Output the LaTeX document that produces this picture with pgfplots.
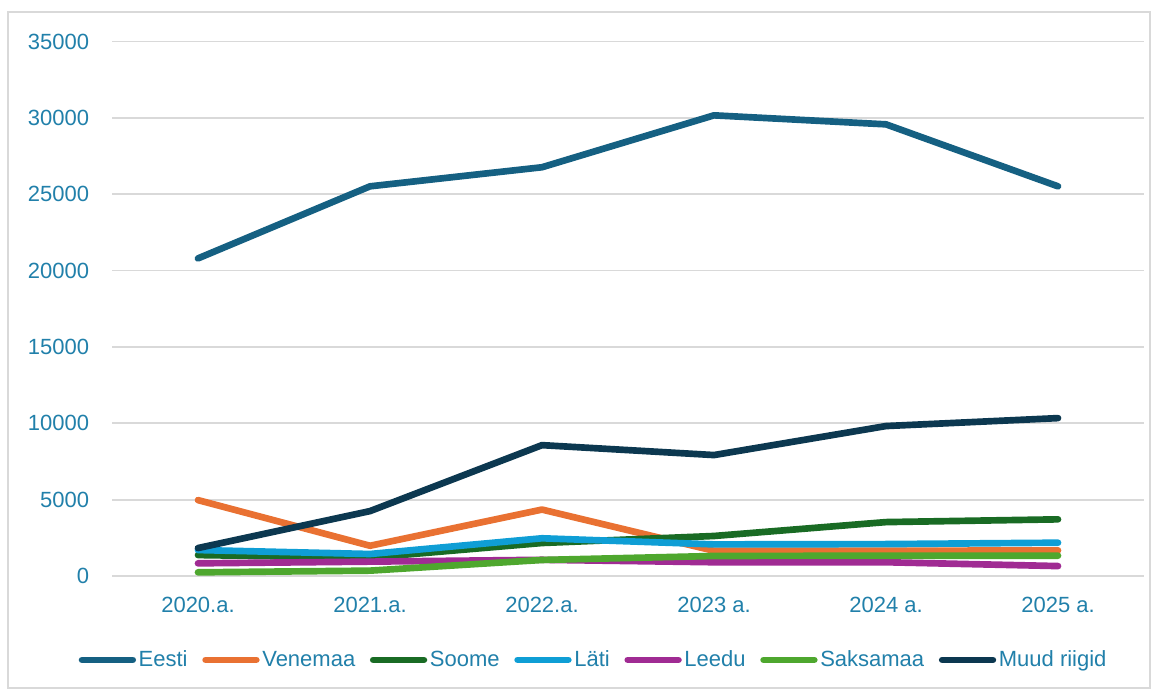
\documentclass[border=0pt]{standalone}
\usepackage{fontspec}
\setmainfont{Liberation Sans}
\usepackage{pgfplots}
\pgfplotsset{compat=1.18}
\definecolor{txt}{HTML}{2180AA}
\definecolor{cEesti}{HTML}{156082}
\definecolor{cVene}{HTML}{E97132}
\definecolor{cSoome}{HTML}{196B24}
\definecolor{cLati}{HTML}{0F9ED5}
\definecolor{cLeedu}{HTML}{A02B93}
\definecolor{cSaks}{HTML}{4EA72E}
\definecolor{cMuud}{HTML}{0C3850}
\definecolor{gridc}{HTML}{D9D9D9}
\begin{document}
\begin{tikzpicture}[x=0.75pt,y=0.75pt]
\path[use as bounding box] (0,0) rectangle (1153,691);
\draw[gridc, line width=1.2pt] (8,3) rectangle (1150,679);
\begin{axis}[
  at={(84pt,86.25pt)}, anchor=south west,
  scale only axis, width=774pt, height=400.8pt,
  xmin=-0.5, xmax=5.5, ymin=0, ymax=35000,
  xtick={0,1,2,3,4,5},
  xticklabels={2020.a.,2021.a.,2022.a.,2023 a.,2024 a.,2025 a.},
  ytick={0,5000,10000,15000,20000,25000,30000,35000},
  scaled y ticks=false,
  /pgf/number format/assume math mode=true,
  /pgf/number format/1000 sep={},
  ymajorgrids=true, xmajorgrids=false,
  major grid style={draw=gridc, line width=1.3pt},
  axis line style={draw=none},
  major tick length=0pt,
  tick label style={font=\fontsize{16.5}{20}\selectfont, text=txt, inner sep=0pt},
  yticklabel style={anchor=east, xshift=-17pt},
  xticklabel style={anchor=north, yshift=-16pt},
  every axis plot/.append style={line width=5pt, line cap=round, line join=round},
  legend columns=7,
  legend style={draw=none, at={(0.467,-0.157)}, anchor=center,
    font=\fontsize{16.5}{20}\selectfont, text=txt, inner sep=0pt,
    /tikz/every even column/.append style={column sep=9pt},
    legend cell align=left},
  legend image code/.code={\draw[#1, line width=5pt, line cap=round] (0pt,0pt) -- (38pt,0pt);},
]
\addplot[cEesti] coordinates {(0,20800)(1,25520)(2,26770)(3,30170)(4,29580)(5,25520)};
\addlegendentry{Eesti}
\addplot[cVene] coordinates {(0,4970)(1,1980)(2,4350)(3,1650)(4,1650)(5,1680)};
\addlegendentry{Venemaa}
\addplot[cSoome] coordinates {(0,1370)(1,1200)(2,2160)(3,2620)(4,3530)(5,3710)};
\addlegendentry{Soome}
\addplot[cLati] coordinates {(0,1700)(1,1440)(2,2470)(3,2070)(4,2090)(5,2180)};
\addlegendentry{Läti}
\addplot[cLeedu] coordinates {(0,830)(1,940)(2,1060)(3,900)(4,900)(5,650)};
\addlegendentry{Leedu}
\addplot[cSaks] coordinates {(0,240)(1,350)(2,1050)(3,1310)(4,1330)(5,1330)};
\addlegendentry{Saksamaa}
\addplot[cMuud] coordinates {(0,1830)(1,4250)(2,8570)(3,7920)(4,9820)(5,10340)};
\addlegendentry{Muud riigid}
\end{axis}
\end{tikzpicture}
\end{document}
